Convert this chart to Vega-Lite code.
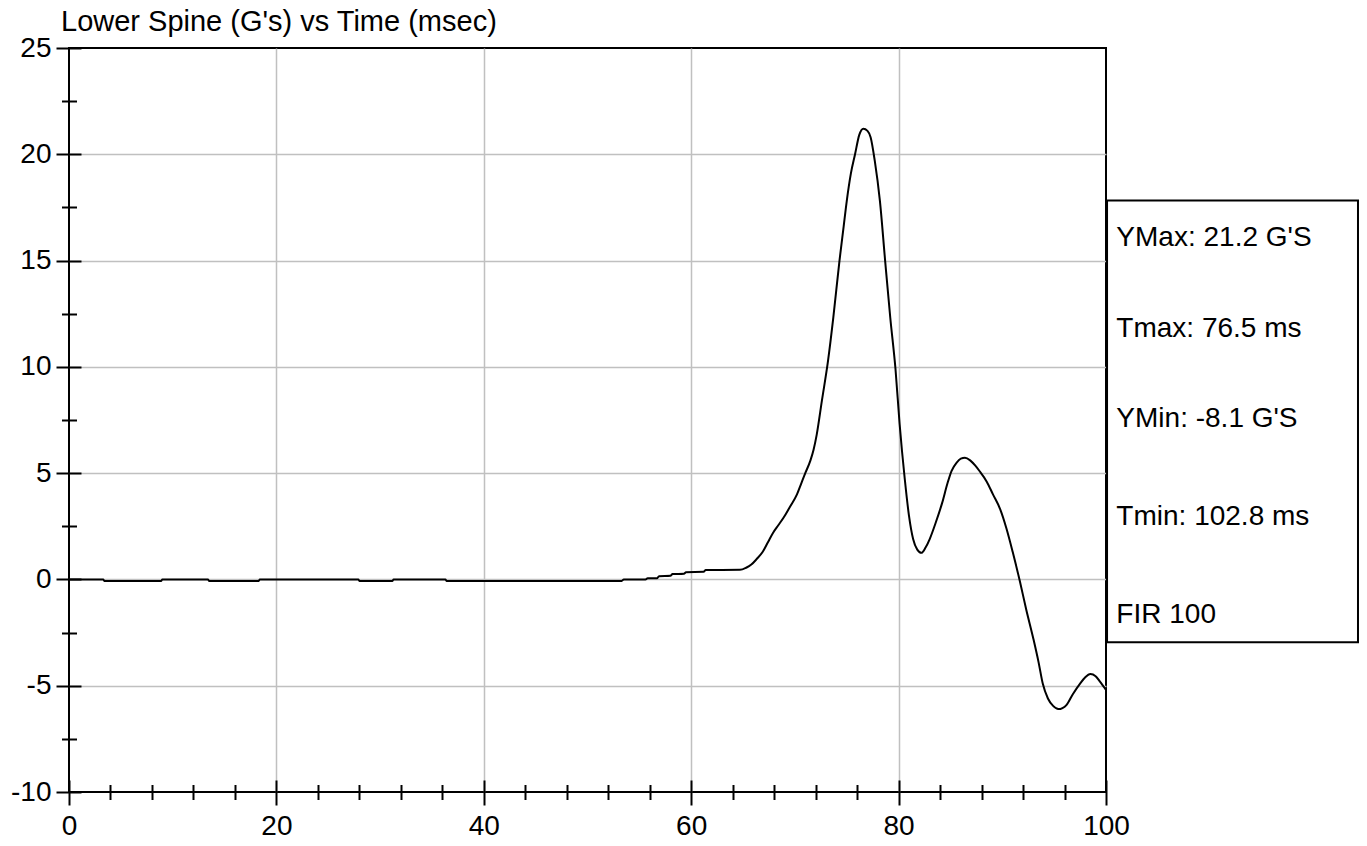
{
  "$schema": "https://vega.github.io/schema/vega-lite/v6.json",
  "autosize": "none",
  "width": 1037,
  "height": 744,
  "padding": {"left": 69, "top": 48, "right": 261, "bottom": 54},
  "background": "white",
  "config": {
    "view": {"stroke": "black", "strokeWidth": 2},
    "font": "Liberation Sans"
  },
  "title": {
    "text": "Lower Spine (G's) vs Time (msec)",
    "anchor": "start",
    "frame": "group",
    "dx": -8,
    "offset": -3,
    "fontSize": 29,
    "fontWeight": "normal",
    "font": "Liberation Sans",
    "color": "black"
  },
  "datasets": {
    "curve": [
      {"t": 0, "g": 0}, {"t": 3.3, "g": 0}, {"t": 3.4, "g": -0.07}, {"t": 8.9, "g": -0.07}, {"t": 9.0, "g": 0},
      {"t": 13.4, "g": 0}, {"t": 13.5, "g": -0.07}, {"t": 18.3, "g": -0.07}, {"t": 18.4, "g": 0},
      {"t": 27.9, "g": 0}, {"t": 28.0, "g": -0.07}, {"t": 31.2, "g": -0.07}, {"t": 31.3, "g": 0},
      {"t": 36.3, "g": 0}, {"t": 36.4, "g": -0.07}, {"t": 53.3, "g": -0.07}, {"t": 53.5, "g": 0},
      {"t": 55.6, "g": 0}, {"t": 55.8, "g": 0.05}, {"t": 56.7, "g": 0.05}, {"t": 56.9, "g": 0.15},
      {"t": 58.0, "g": 0.17}, {"t": 58.2, "g": 0.25}, {"t": 59.3, "g": 0.27}, {"t": 59.5, "g": 0.34},
      {"t": 61.2, "g": 0.36}, {"t": 61.4, "g": 0.44}, {"t": 64.7, "g": 0.45}, {"t": 65.3, "g": 0.55},
      {"t": 65.8, "g": 0.7}, {"t": 66.3, "g": 0.95}, {"t": 66.9, "g": 1.3}, {"t": 67.4, "g": 1.75},
      {"t": 67.9, "g": 2.2}, {"t": 68.4, "g": 2.55}, {"t": 68.9, "g": 2.9}, {"t": 69.5, "g": 3.4},
      {"t": 70.2, "g": 4.0}, {"t": 70.6, "g": 4.5}, {"t": 71.0, "g": 5.0}, {"t": 71.5, "g": 5.6},
      {"t": 71.8, "g": 6.1}, {"t": 72.1, "g": 6.8}, {"t": 72.6, "g": 8.4}, {"t": 73.2, "g": 10.3},
      {"t": 73.7, "g": 12.3}, {"t": 74.3, "g": 15.0}, {"t": 74.7, "g": 16.6}, {"t": 75.0, "g": 17.8},
      {"t": 75.4, "g": 19.1}, {"t": 75.8, "g": 20.0}, {"t": 76.2, "g": 20.9}, {"t": 76.6, "g": 21.2},
      {"t": 77.0, "g": 21.1}, {"t": 77.3, "g": 20.8}, {"t": 77.7, "g": 19.7}, {"t": 78.2, "g": 17.8},
      {"t": 78.7, "g": 15.0}, {"t": 79.2, "g": 12.3}, {"t": 79.7, "g": 9.9}, {"t": 80.1, "g": 7.3},
      {"t": 80.6, "g": 4.7}, {"t": 81.0, "g": 3.0}, {"t": 81.4, "g": 1.9}, {"t": 81.8, "g": 1.4},
      {"t": 82.2, "g": 1.25}, {"t": 82.6, "g": 1.5}, {"t": 83.0, "g": 1.9}, {"t": 83.6, "g": 2.7},
      {"t": 84.2, "g": 3.6}, {"t": 84.7, "g": 4.5}, {"t": 85.1, "g": 5.1}, {"t": 85.6, "g": 5.5},
      {"t": 86.0, "g": 5.68}, {"t": 86.4, "g": 5.72}, {"t": 86.9, "g": 5.6}, {"t": 87.4, "g": 5.35},
      {"t": 87.8, "g": 5.1}, {"t": 88.5, "g": 4.6}, {"t": 89.1, "g": 4.0}, {"t": 89.8, "g": 3.3},
      {"t": 90.4, "g": 2.4}, {"t": 91.0, "g": 1.3}, {"t": 91.7, "g": -0.1}, {"t": 92.3, "g": -1.4},
      {"t": 93.0, "g": -2.8}, {"t": 93.5, "g": -3.9}, {"t": 93.9, "g": -4.9}, {"t": 94.4, "g": -5.6},
      {"t": 94.9, "g": -5.95}, {"t": 95.4, "g": -6.1}, {"t": 95.8, "g": -6.05}, {"t": 96.2, "g": -5.9},
      {"t": 96.8, "g": -5.4}, {"t": 97.5, "g": -4.9}, {"t": 98.0, "g": -4.6}, {"t": 98.5, "g": -4.45},
      {"t": 99.0, "g": -4.55}, {"t": 99.4, "g": -4.8}, {"t": 100, "g": -5.2}
    ],
    "box": [
      {"x1": 100.1, "x2": 124.3, "y1": 17.83, "y2": -2.96}
    ],
    "stats": [
      {"label": "YMax: 21.2 G'S", "tx": 101.0, "ty": 16.04},
      {"label": "Tmax: 76.5 ms", "tx": 101.0, "ty": 11.76},
      {"label": "YMin: -8.1 G'S", "tx": 101.0, "ty": 7.53},
      {"label": "Tmin: 102.8 ms", "tx": 101.0, "ty": 2.96},
      {"label": "FIR 100", "tx": 101.0, "ty": -1.65}
    ]
  },
  "resolve": {"axis": {"x": "independent", "y": "independent"}},
  "layer": [
    {
      "data": {"name": "curve"},
      "mark": {"type": "line", "color": "black", "strokeWidth": 2, "interpolate": "monotone"},
      "encoding": {
        "x": {
          "field": "t", "type": "quantitative",
          "scale": {"domain": [0, 100], "nice": false, "zero": false},
          "axis": {"orient": "bottom", "values": [20, 40, 60, 80], "grid": true, "gridColor": "#c0c0c0", "gridWidth": 1.5, "gridOpacity": 1, "ticks": false, "labels": false, "domain": false, "title": null}
        },
        "y": {
          "field": "g", "type": "quantitative",
          "scale": {"domain": [-10, 25], "nice": false, "zero": false},
          "axis": {"orient": "left", "values": [-5, 0, 5, 10, 15, 20], "grid": true, "gridColor": "#c0c0c0", "gridWidth": 1.5, "gridOpacity": 1, "ticks": false, "labels": false, "domain": false, "title": null}
        }
      }
    },
    {
      "data": {"name": "box"},
      "mark": {"type": "rect", "fill": "white", "stroke": "black", "strokeWidth": 2, "clip": false},
      "encoding": {
        "x": {
          "field": "x1", "type": "quantitative",
          "axis": {"orient": "bottom", "values": [0, 20, 40, 60, 80, 100], "labelExpr": "'' + datum.value", "grid": false, "domain": false, "offset": -12, "tickSize": 25, "tickWidth": 2, "tickColor": "black", "labelFontSize": 28, "labelColor": "black", "labelFont": "Liberation Sans", "labelPadding": 7, "labelFlush": false, "labelOverlap": false, "title": null}
        },
        "x2": {"field": "x2"},
        "y": {
          "field": "y1", "type": "quantitative",
          "axis": {"orient": "left", "values": [-10, -5, 0, 5, 10, 15, 20, 25], "labelExpr": "'' + datum.value", "grid": false, "domain": false, "offset": -12, "tickSize": 25, "tickWidth": 2, "tickColor": "black", "labelFontSize": 28, "labelColor": "black", "labelFont": "Liberation Sans", "labelPadding": 5, "labelFlush": false, "labelOverlap": false, "title": null}
        },
        "y2": {"field": "y2"}
      }
    },
    {
      "data": {"name": "stats"},
      "mark": {"type": "text", "align": "left", "baseline": "middle", "fontSize": 28, "font": "Liberation Sans", "color": "black", "clip": false},
      "encoding": {
        "x": {
          "field": "tx", "type": "quantitative",
          "axis": {"orient": "bottom", "values": [4, 8, 12, 16, 24, 28, 32, 36, 44, 48, 52, 56, 64, 68, 72, 76, 84, 88, 92, 96], "grid": false, "domain": false, "labels": false, "offset": -7.5, "tickSize": 15, "tickWidth": 2, "tickColor": "black", "title": null}
        },
        "y": {
          "field": "ty", "type": "quantitative",
          "axis": {"orient": "left", "values": [-7.5, -2.5, 2.5, 7.5, 12.5, 17.5, 22.5], "grid": false, "domain": false, "labels": false, "offset": -7.5, "tickSize": 15, "tickWidth": 2, "tickColor": "black", "title": null}
        },
        "text": {"field": "label"}
      }
    }
  ]
}
